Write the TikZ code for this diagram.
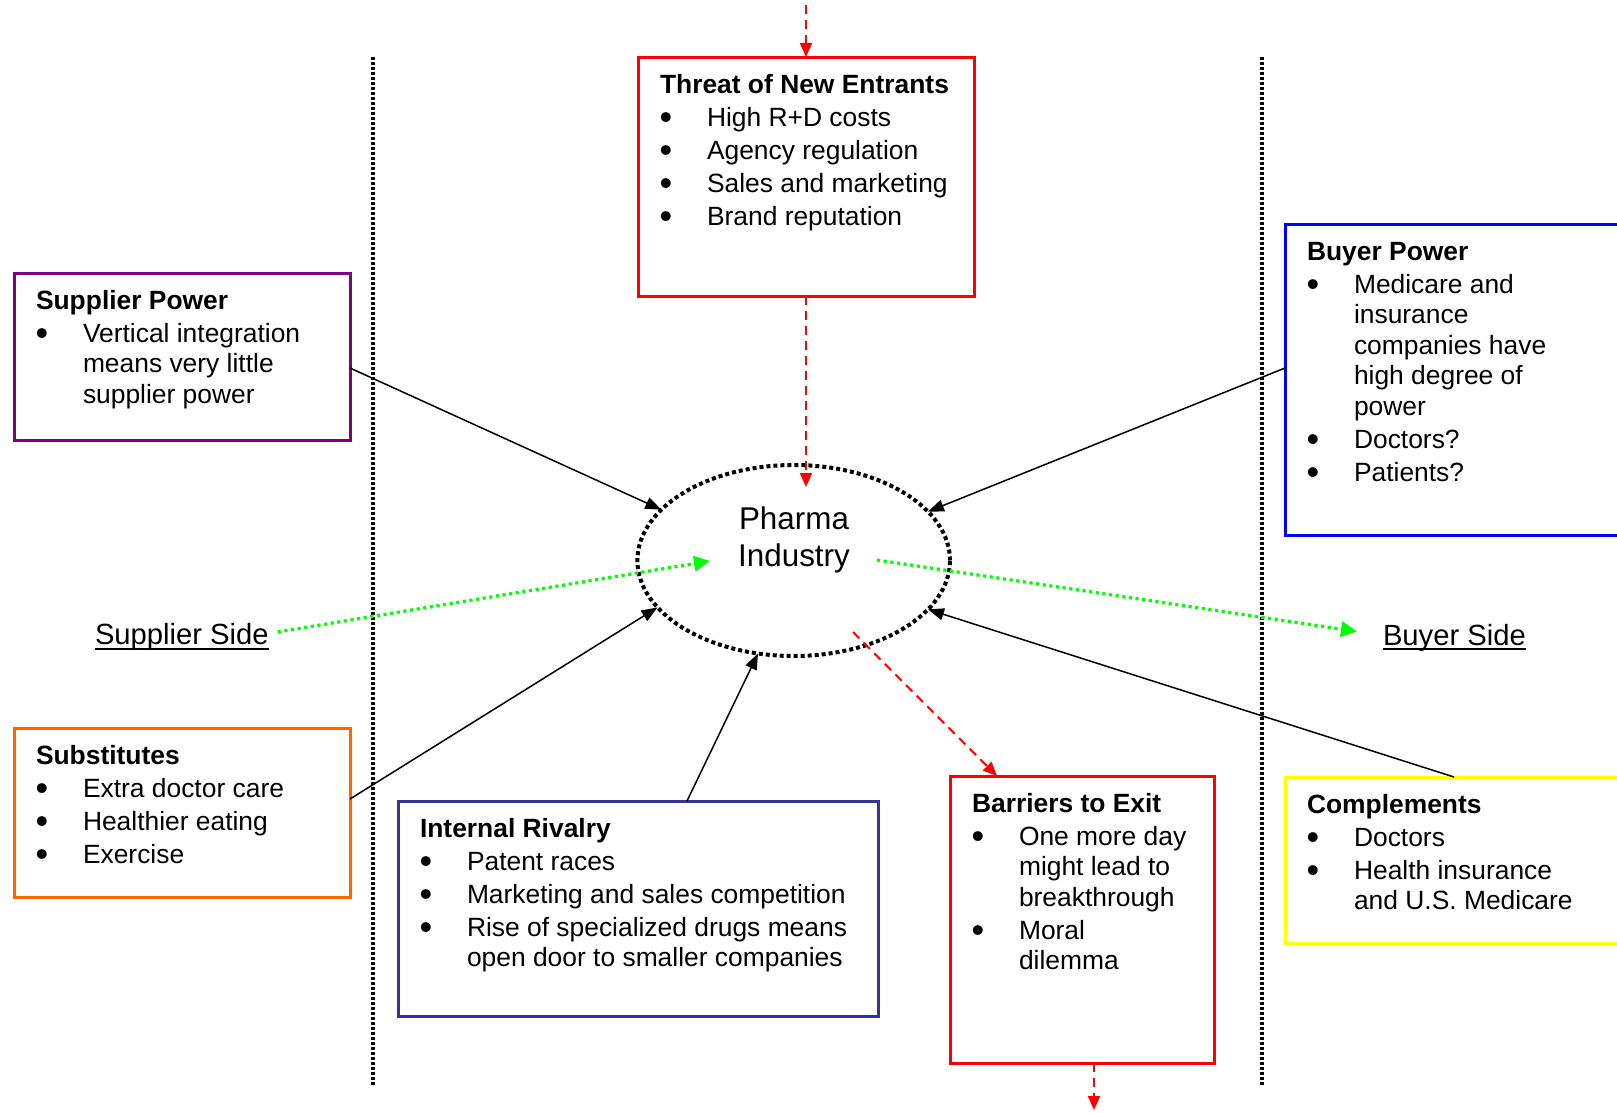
\documentclass[tikz,border=0pt]{standalone}
\usepackage{fontspec}
\setmainfont{Liberation Sans}
\usetikzlibrary{arrows.meta,calc,shapes.geometric}
\definecolor{cpurple}{HTML}{800080}
\definecolor{corange}{HTML}{FF6600}
\definecolor{cnavy}{HTML}{333399}
\definecolor{cred}{HTML}{FF0000}
\definecolor{cblue}{HTML}{0000FF}
\definecolor{cyellow}{HTML}{FFFF00}
\definecolor{cgreen}{HTML}{00FF00}
\tikzset{
  fbox/.style={draw, line width=3pt, anchor=north west, inner sep=0pt, outer sep=0pt},
  ftext/.style={anchor=base west, inner sep=0pt, outer sep=0pt},
  force/.style={line width=1.5pt, -{Triangle[length=16pt,width=12pt]}},
  reddash/.style={cred, line width=2pt, dash pattern=on 9pt off 6pt, -{Triangle[length=14pt,width=12pt]}},
  greendot/.style={cgreen, line width=3.2pt, dash pattern=on 3.2pt off 3.5pt, -{Triangle[length=16pt,width=15pt]}},
  divider/.style={line width=3.6pt, dash pattern=on 3pt off 2pt},
  sidelabel/.style={anchor=base west, inner sep=0pt, outer sep=0pt, font=\fontsize{29.2}{34}\selectfont},
}
\newcommand{\bul}{\makebox[47pt][l]{\hspace*{-0.5pt}\raisebox{-3.5pt}{\fontsize{36}{0}\selectfont •}}}
\newcommand{\itm}{\par\hangindent=47pt\hangafter=1 \bul}
\newcommand{\nl}{\hfil\break}
% name, colour, x, y, w, h, text width, content
\newcommand{\fbx}[8]{%
  \node[fbox, draw=#2, minimum width=#5pt, minimum height=#6pt] (#1) at (#3,#4) {};
  \node[ftext] (#1t) at ($(#1.north west)+(22,36)$)
    {\begin{minipage}[t]{#7pt}\fontsize{26.4}{30.5}\selectfont\raggedright\setlength\parskip{2.5pt}#8\end{minipage}};}
\begin{document}
\begin{tikzpicture}[x=1pt,y=-1pt]
\useasboundingbox (0,0) rectangle (1617,1112);
\clip (0,0) rectangle (1617,1112);
\fill[white] (0,0) rectangle (1617,1112);

% dividers
\draw[divider] (373,57) -- (373,1086);
\draw[divider] (1262,57) -- (1262,1086);

% boxes
\fbx{th}{cred}{638}{57}{336}{239}{310}{\textbf{Threat of New Entrants}\itm High R+D costs\itm Agency regulation\itm Sales and marketing\itm Brand reputation\par}
\fbx{sp}{cpurple}{14}{273}{336}{167}{310}{\textbf{Supplier Power}\itm Vertical integration\nl means very little\nl supplier power\par}
\fbx{sb}{corange}{14}{728}{336}{169}{310}{\textbf{Substitutes}\itm Extra doctor care\itm Healthier eating\itm Exercise\par}
\fbx{ir}{cnavy}{398}{801}{480}{215}{455}{\textbf{Internal Rivalry}\itm Patent races\itm Marketing and sales competition\itm Rise of specialized drugs means\nl open door to smaller companies\par}
\fbx{be}{cred}{950}{776}{264}{287}{240}{\textbf{Barriers to Exit}\itm One more day\nl might lead to\nl breakthrough\itm Moral\nl dilemma\par}
\fbx{bp}{cblue}{1285}{224}{345}{311}{300}{\textbf{Buyer Power}\itm Medicare and\nl insurance\nl companies have\nl high degree of\nl power\itm Doctors?\itm Patients?\par}
\fbx{cp}{cyellow}{1285}{777}{345}{166}{300}{\textbf{Complements}\itm Doctors\itm Health insurance\nl and U.S. Medicare\par}

% centre
\node[ellipse, draw, line width=4pt, dash pattern=on 4pt off 3pt,
      minimum width=312.6pt, minimum height=191pt, inner sep=0pt, outer sep=0pt]
      (pharma) at (793.7,560.5) {};
\node[align=center, inner sep=0pt, font=\fontsize{31.4}{37}\selectfont] (pharmat) at (794,540) {Pharma\\Industry};

% side labels
\node[sidelabel] (ss) at (95,644) {Supplier Side};
\node[sidelabel] (bs) at (1383,645) {Buyer Side};
\draw[line width=2.5pt] ([yshift=-5pt]ss.base west) -- ([yshift=-5pt]ss.base east);
\draw[line width=2.5pt] ([yshift=-4pt]bs.base west) -- ([yshift=-4pt]bs.base east);

% coordinates for free ends
\coordinate (topin) at (806,5);
\coordinate (thtip) at (806,487);
\coordinate (redstart) at (853,632);
\coordinate (botend) at (1094,1110);
\coordinate (gtipL) at (710,561);
\coordinate (gstartR) at (877,560);

% forces
\draw[force] ([yshift=-11.5pt]sp.east) -- (pharma.159.9);
\draw[force] ([yshift=11.5pt]bp.west) -- (pharma.20.5);
\draw[force] ([yshift=13.5pt]sb.east) -- (pharma.199.8);
\draw[force] ([xshift=49pt]ir.north) -- (pharma.249.2);
\draw[force] ([xshift=169pt]cp.north west) -- (pharma.340.1);

% red dashed
\draw[reddash] (topin) -- (th.north);
\draw[reddash] (th.south) -- (thtip);
\draw[reddash] (redstart) -- ([xshift=47pt]be.north west);
\draw[reddash] ([xshift=12pt]be.south) -- (botend);

% green dotted
\draw[greendot] ([xshift=9pt,yshift=4.5pt]ss.east) -- (gtipL);
\draw[greendot] (gstartR) -- ([xshift=-26pt,yshift=6pt]bs.west);
\end{tikzpicture}
\end{document}
